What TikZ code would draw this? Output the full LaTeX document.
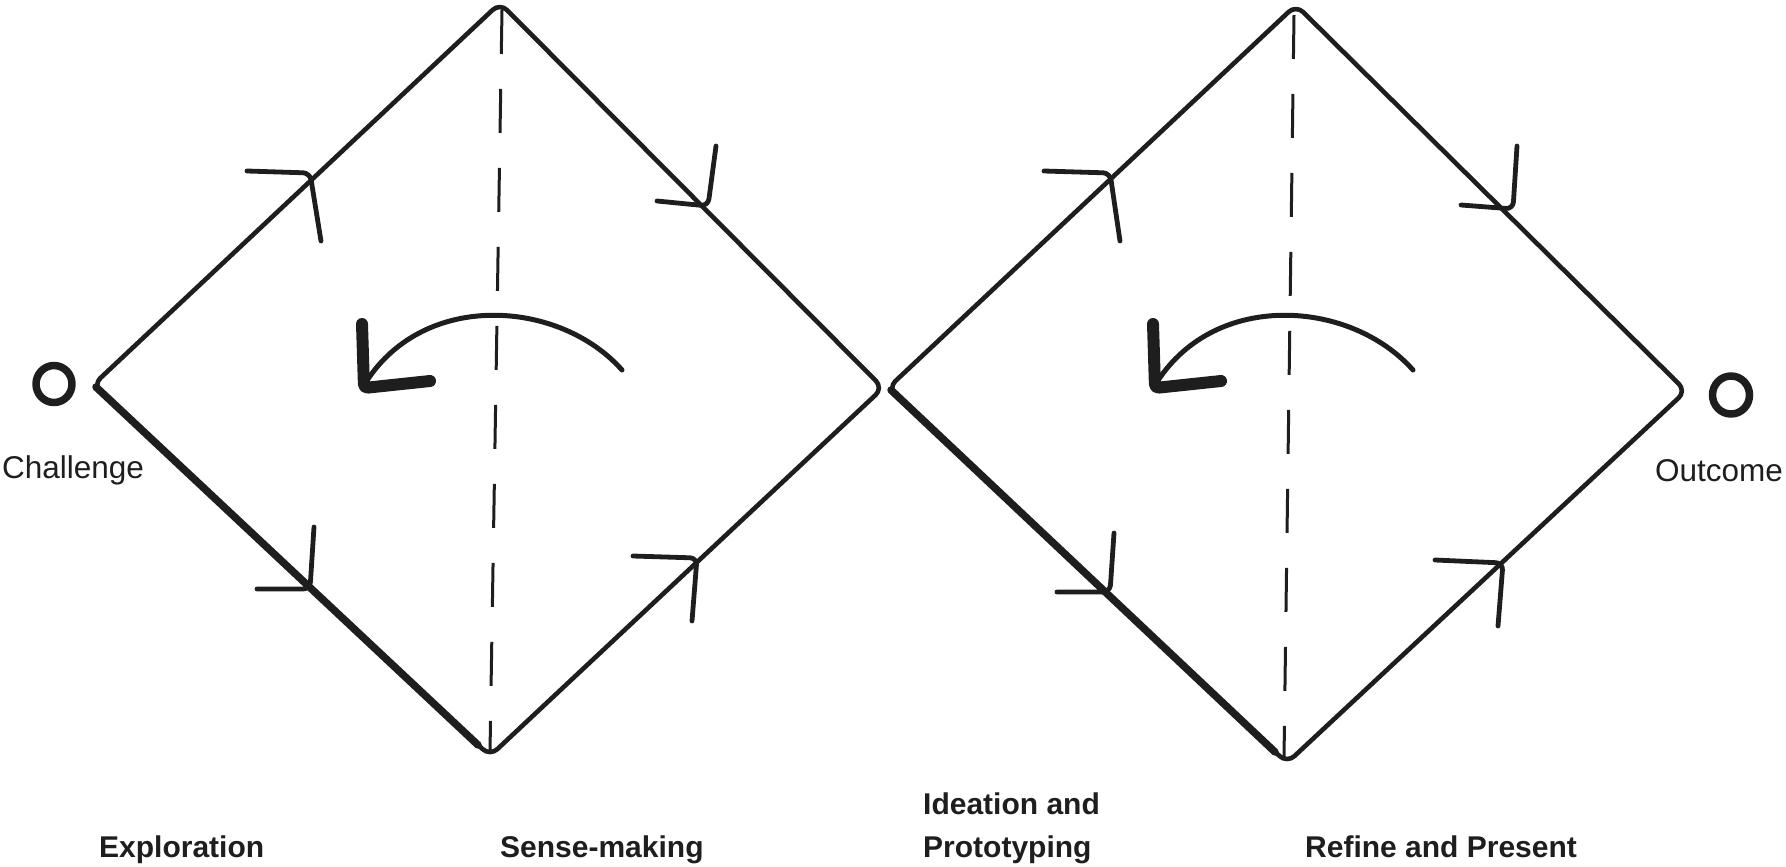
\documentclass[tikz,border=0pt]{standalone}
\usepackage{fontspec}
\setmainfont{Liberation Sans}
\usetikzlibrary{calc}
\definecolor{inkc}{HTML}{1E1E1E}
\begin{document}
\begin{tikzpicture}[x=1pt,y=-1pt,
  ink/.style={draw=inkc, line cap=round, line join=round},
  edgeline/.style={ink, line width=4.6pt, rounded corners=10pt},
  heavyline/.style={ink, line width=7.5pt},
  chev/.style={ink, line width=4.8pt, rounded corners=7pt},
  midline/.style={draw=inkc, line width=3pt, dash pattern=on 44pt off 35pt},
  arcline/.style={ink, line width=5pt},
  headline/.style={ink, line width=12pt, rounded corners=4pt},
  ring/.style={ink, line width=7.5pt},
  small/.style={inner sep=0pt, text=inkc, font=\fontsize{31.5}{36}\selectfont},
  phase/.style={inner sep=0pt, text=inkc, align=left, font=\fontsize{30}{43}\selectfont\bfseries}
]
\useasboundingbox (0,0) rectangle (1786,867);

% diamond corners
\coordinate (T1) at (500,3);   \coordinate (L1) at (93,385);
\coordinate (R1) at (883,388); \coordinate (B1) at (490,756);
\coordinate (T2) at (1296,5);  \coordinate (L2) at (888,388);
\coordinate (R2) at (1686,391);\coordinate (B2) at (1287,763);

\draw[edgeline] (L1) -- (T1) -- (R1) -- (B1) -- cycle;
\draw[edgeline] (L2) -- (T2) -- (R2) -- (B2) -- cycle;
\draw[heavyline] ($(L1)+(3,2)$) -- ($(B1)+(-12,-11)$);
\draw[heavyline] ($(L2)+(3,2)$) -- ($(B2)+(-12,-11)$);

% dashed centre lines
\coordinate (D1a) at (502,10); \coordinate (D1b) at (490,752);
\coordinate (D2a) at (1294,15); \coordinate (D2b) at (1284,758);
\draw[midline] (D1a) -- (D1b);
\draw[midline] (D2a) -- (D2b);

% chevrons diamond 1
\coordinate (c1a) at (247,171); \coordinate (c1b) at (310,173); \coordinate (c1c) at (321,241);
\coordinate (c2a) at (657,201); \coordinate (c2b) at (708,206); \coordinate (c2c) at (716,146);
\coordinate (c3a) at (257,589); \coordinate (c3b) at (310,589); \coordinate (c3c) at (314,527);
\coordinate (c4a) at (633,556); \coordinate (c4b) at (697,558); \coordinate (c4c) at (692,621);
\draw[chev] (c1a) -- (c1b) -- (c1c);
\draw[chev] (c2a) -- (c2b) -- (c2c);
\draw[chev] (c3a) -- (c3b) -- (c3c);
\draw[chev] (c4a) -- (c4b) -- (c4c);

% chevrons diamond 2
\coordinate (d1a) at (1044,171); \coordinate (d1b) at (1110,173); \coordinate (d1c) at (1120,241);
\coordinate (d2a) at (1461,205); \coordinate (d2b) at (1513,209); \coordinate (d2c) at (1517,146);
\coordinate (d3a) at (1057,592); \coordinate (d3b) at (1110,592); \coordinate (d3c) at (1114,533);
\coordinate (d4a) at (1435,560); \coordinate (d4b) at (1503,563); \coordinate (d4c) at (1498,626);
\draw[chev] (d1a) -- (d1b) -- (d1c);
\draw[chev] (d2a) -- (d2b) -- (d2c);
\draw[chev] (d3a) -- (d3b) -- (d3c);
\draw[chev] (d4a) -- (d4b) -- (d4c);

% curved arrows
\coordinate (a1s) at (622,370); \coordinate (a1t) at (366,382);
\coordinate (a1u) at (362,324); \coordinate (a1c) at (364,388); \coordinate (a1h) at (430,381);
\draw[arcline] (a1s) .. controls (560,300) and (425,290) .. (a1t);
\draw[headline] (a1u) -- (a1c) -- (a1h);

\coordinate (a2s) at (1413,370); \coordinate (a2t) at (1157,382);
\coordinate (a2u) at (1153,324); \coordinate (a2c) at (1155,388); \coordinate (a2h) at (1221,381);
\draw[arcline] (a2s) .. controls (1351,300) and (1216,290) .. (a2t);
\draw[headline] (a2u) -- (a2c) -- (a2h);

% start / end rings
\draw[ring] (54,384) ellipse [x radius=18pt, y radius=18.5pt];
\draw[ring] (1731,395) ellipse [x radius=18.5pt, y radius=19pt];

% labels
\node[small, anchor=base west] (chal) at (2,478) {Challenge};
\node[small, anchor=base east] (outc) at (1783,481) {Outcome};
\node[phase, anchor=base west] (expl) at (99,857) {Exploration};
\node[phase, anchor=base west] (sens) at (500,857) {Sense-making};
\node[phase, anchor=base west] (idea) at (923,857) {Ideation and\\Prototyping};
\node[phase, anchor=base west] (refi) at (1305,857) {Refine and Present};
\end{tikzpicture}
\end{document}
